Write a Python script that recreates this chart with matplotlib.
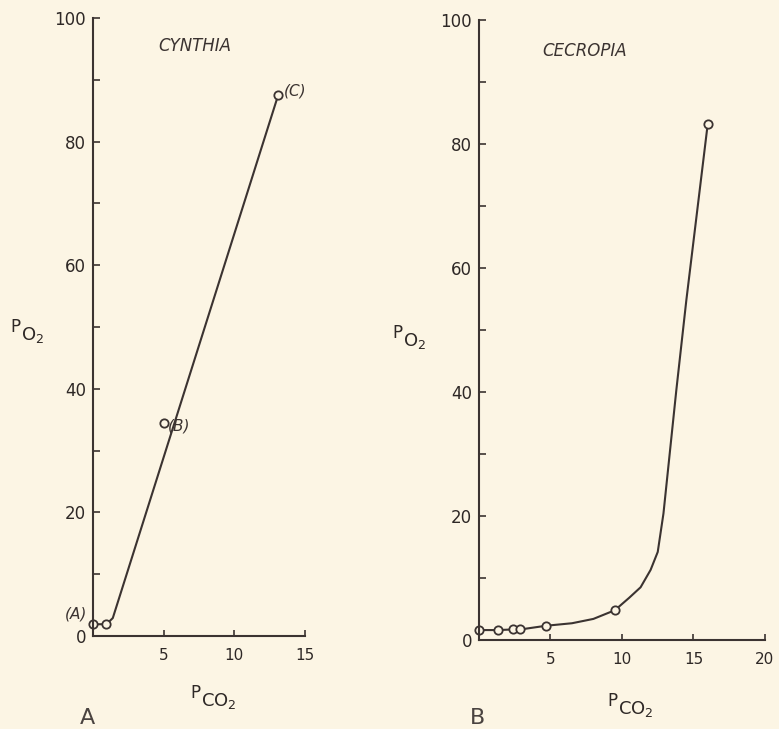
import matplotlib.pyplot as plt

# CYNTHIA (panel A)
cyn_pts_x = [0.0, 0.95, 5.0, 13.1]
cyn_pts_y = [1.9, 1.9, 34.4, 87.5]
cyn_line_x = [0.0, 0.95, 1.4, 13.1]
cyn_line_y = [1.9, 1.9, 2.9, 87.5]
cyn_labels = ['(A)', '(B)', '(C)']

# CECROPIA (panel B)
cec_pts_x = [0.0, 1.3, 2.4, 2.9, 4.7, 9.5, 16.0]
cec_pts_y = [1.6, 1.6, 1.7, 1.7, 2.3, 4.8, 83.3]
cec_curve_x = [0.0, 1.3, 2.4, 2.9, 4.7, 6.5, 8.0, 9.5, 10.5, 11.3, 12.0, 12.5, 12.9, 13.8, 14.5, 16.0]
cec_curve_y = [1.6, 1.6, 1.7, 1.7, 2.3, 2.7, 3.4, 4.8, 6.8, 8.5, 11.3, 14.2, 20.4, 40.3, 54.8, 83.3]

y_major = [0, 20, 40, 60, 80, 100]
y_minor = [10, 30, 50, 70, 90]

bg = '#fcf5e4'
ink = '#3b3331'
txt = '#2e2826'
plt.rcParams['font.family'] = ['DejaVu Sans']

fig = plt.figure(figsize=(7.79, 7.29), dpi=100, facecolor=bg)
axA = fig.add_axes([0.1194, 0.1276, 0.2721, 0.8477])
axB = fig.add_axes([0.6149, 0.1221, 0.3671, 0.8505])


def style(ax, xmax, xticks):
    ax.set_facecolor(bg)
    ax.set_xlim(0, xmax)
    ax.set_ylim(0, 100)
    for s in ['top', 'right']:
        ax.spines[s].set_visible(False)
    for s in ['left', 'bottom']:
        ax.spines[s].set_color(ink)
        ax.spines[s].set_linewidth(1.5)
    ax.set_yticks(y_major)
    ax.set_yticklabels([str(v) for v in y_major])
    ax.set_yticks(y_minor, minor=True)
    ax.set_xticks(xticks)
    ax.set_xticklabels([str(v) for v in xticks])
    ax.tick_params(axis='y', which='both', direction='in', length=5, width=1.2,
                   color=ink, pad=5, labelsize=12, labelcolor=txt)
    ax.tick_params(axis='x', direction='in', length=4, width=1.2,
                   color=ink, pad=9, labelsize=11, labelcolor=txt)


style(axA, 15, [5, 10, 15])
style(axB, 20, [5, 10, 15, 20])

axA.plot(cyn_line_x, cyn_line_y, color=ink, lw=1.5, clip_on=False)
axA.plot(cyn_pts_x, cyn_pts_y, 'o', ms=6, mfc=bg, mec=ink, mew=1.3, clip_on=False)
axA.text(-0.4, 3.6, cyn_labels[0], fontsize=11, style='italic', ha='right', va='center', color=ink)
axA.text(5.3, 34.0, cyn_labels[1], fontsize=11, style='italic', ha='left', va='center', color=ink)
axA.text(13.5, 88.2, cyn_labels[2], fontsize=11, style='italic', ha='left', va='center', color=ink)
axA.text(7.2, 95.5, 'CYNTHIA', fontsize=12, style='italic', ha='center', va='center', color=ink)

axB.plot(cec_curve_x, cec_curve_y, color=ink, lw=1.5, clip_on=False)
axB.plot(cec_pts_x, cec_pts_y, 'o', ms=6, mfc=bg, mec=ink, mew=1.3, clip_on=False)
axB.text(7.4, 95.0, 'CECROPIA', fontsize=12, style='italic', ha='center', va='center', color=ink)


def sub_label(x, y, main, sub):
    # hand-lettered style: main letter raised, subscript part lowered
    fig.text(x / 779, 1 - (y - 5) / 729, main, fontsize=12, ha='left', va='center', color=txt)
    fig.text((x + 11) / 779, 1 - (y + 3) / 729, r'$\mathregular{' + sub + '_2}$',
             fontsize=13, ha='left', va='center', color=txt)


sub_label(10, 332, 'P', 'O')
sub_label(392, 338, 'P', 'O')
sub_label(190, 698, 'P', 'CO')
sub_label(607, 706, 'P', 'CO')
fig.text(87 / 779, 1 - 718 / 729, 'A', fontsize=16, ha='center', va='center', color='#4a4340')
fig.text(477 / 779, 1 - 718 / 729, 'B', fontsize=16, ha='center', va='center', color='#4a4340')

fig.savefig('out.png', dpi=100, facecolor=bg)
